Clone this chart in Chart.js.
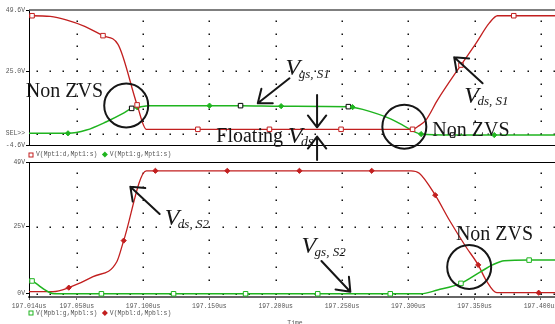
<!DOCTYPE html>
<html>
<head>
<meta charset="utf-8">
<script src="https://cdn.jsdelivr.net/npm/chart.js@4/dist/chart.umd.min.js"></script>
<style>
  html, body { margin: 0; padding: 0; background: #fff; overflow: hidden; }
  #wrap { position: relative; width: 555px; height: 324px; }
  #wrap canvas { position: absolute; left: 0; top: 0; }
</style>
</head>
<body>
<div id="wrap">
  <canvas id="lower" width="555" height="324"></canvas>
  <canvas id="upper" width="555" height="324"></canvas>
</div>
<script>
// ---- time axis (us) ----
const timeStart = 197.014;
const timeEnd = 197.4106;
const timeTicks = [197.014, 197.050, 197.100, 197.150, 197.200, 197.250, 197.300, 197.350, 197.400];

// ---- upper plot: switch S1 ----
const upperTickValues = [-4.6, 0, 25, 49.6];
const upperTickLabels = ['-4.6V', 'SEL>>', '25.0V', '49.6V'];

const s1VdsTime = [197.014, 197.0163, 197.030, 197.042, 197.056, 197.0698, 197.0811, 197.0955, 197.1025,
                   197.1413, 197.1953, 197.2493, 197.3032, 197.3070, 197.3133, 197.3221, 197.3397,
                   197.3510, 197.3610, 197.3672, 197.3795, 197.4106];
const s1Vds     = [47.3, 47.3, 47.0, 45.6, 43.0, 39.3, 35.8, 11.5, 1.7,
                   1.7, 1.7, 1.7, 1.7, 2.75, 5.4, 13.5, 27.5,
                   36.2, 44.3, 47.3, 47.3, 47.3];
const s1VdsMarks = [197.0163, 197.0698, 197.0955, 197.1413, 197.1953, 197.2493, 197.3032, 197.3397, 197.3795];

const s1VgsTime = [197.014, 197.0434, 197.0573, 197.0724, 197.0849, 197.0914, 197.0957, 197.105,
                   197.1501, 197.1735, 197.2041, 197.2548, 197.2580, 197.2656, 197.2857, 197.2970,
                   197.3096, 197.3334, 197.3648, 197.4106];
const s1Vgs     = [0.1, 0.1, 1.4, 4.75, 8.1, 10.1, 10.5, 11.2,
                   11.2, 11.2, 11.0, 10.8, 10.6, 9.7, 6.1, 3.0,
                   -0.2, -0.6, -0.6, -0.6];
const s1VgsMarks = [197.0434, 197.0957, 197.1501, 197.2041, 197.2580, 197.3096, 197.3648];
const s1CursorMarks = [197.0914, 197.1735, 197.2548, 197.3334];

// ---- lower plot: switch S2 ----
const lowerTickValues = [0, 25, 49];
const lowerTickLabels = ['0V', '25V', '49V'];

const s2VgsTime = [197.014, 197.0163, 197.0334, 197.0686, 197.123, 197.1773, 197.2317, 197.2864,
                   197.3096, 197.322, 197.3397, 197.3547, 197.3635, 197.3723, 197.3911, 197.4106];
const s2Vgs     = [5.3, 4.7, -0.1, -0.1, -0.1, -0.1, -0.1, -0.1,
                   -0.1, 1.3, 3.8, 8.2, 10.7, 12.3, 12.5, 12.5];
const s2VgsMarks = [197.0163, 197.0686, 197.123, 197.1773, 197.2317, 197.2864, 197.3397, 197.3911];

const s2VdsTime = [197.014, 197.0321, 197.044, 197.0623, 197.0803, 197.0854, 197.1025, 197.1093,
                   197.1635, 197.2179, 197.2724, 197.3020, 197.3083, 197.3203, 197.3309, 197.3434,
                   197.3527, 197.3585, 197.3668, 197.3983, 197.4106];
const s2Vds     = [0.7, 0.7, 2.2, 6.3, 12.0, 19.8, 45.9, 45.9,
                   45.9, 45.9, 45.9, 45.9, 45.0, 36.8, 27.5, 17.5,
                   10.7, 5.1, 0.3, 0.3, 0.3];
const s2VdsMarks = [197.044, 197.0854, 197.1093, 197.1635, 197.2179, 197.2724, 197.3203, 197.3527, 197.3983];

// ---- look ----
const RED = '#c21f1f';
const GREEN = '#1fb41f';
const INK = '#161616';
const LABEL = '#555';
const MONO = "'Liberation Mono','DejaVu Sans Mono',monospace";
const SERIF = "'Liberation Serif','Times New Roman',serif";
const TICK_SIZE = 6.4;
const VOLT_STEP = 5;      // dot spacing along the time gridlines
const TIME_STEP = 0.01;   // dot spacing along the voltage gridlines (10 ns)

// call-outs, anchored in each plot's own units [time us, volts]
const upperNotes = {
  rings: [[197.0873, 11.26], [197.2970, 2.75]],
  arrows: [
    [[197.2104, 22.18], [197.1865, 12.14]],
    [[197.2312, 15.47], [197.2312, 2.51]],
    [[197.2312, -10.62], [197.2312, -1.27]],
    [[197.3560, 20.17], [197.3346, 30.61]]
  ],
  labels: [
    { at: [197.0116, 14.67], parts: [['Non ZVS', '', 20, 0]] },
    { at: [197.2074, 23.5], parts: [['V', 'italic', 24, 0], ['gs, S1', 'italic', 13, 3]] },
    { at: [197.1552, -3.27], parts: [['Floating ', '', 20, 0], ['V', 'italic', 24, 1], ['ds', 'italic', 14, 4]] },
    { at: [197.3422, 12.26], parts: [['V', 'italic', 24, 0], ['ds, S1', 'italic', 13, 2]] },
    { at: [197.3181, -0.99], parts: [['Non ZVS', '', 20, 0]] }
  ]
};
const lowerNotes = {
  rings: [[197.3459, 9.91]],
  arrows: [
    [[197.1125, 29.74], [197.0904, 39.95]],
    [[197.2345, 12.16], [197.2563, 0.67]]
  ],
  labels: [
    { at: [197.1163, 25.62], parts: [['V', 'italic', 24, 0], ['ds, S2', 'italic', 13, 3]] },
    { at: [197.2194, 15.15], parts: [['V', 'italic', 24, 0], ['gs, S2', 'italic', 13, 3]] },
    { at: [197.3359, 20.01], parts: [['Non ZVS', '', 20, 0]] }
  ]
};

// ---- helpers ----
const pts = (ts, vs) => ts.map((t, i) => ({ x: t, y: vs[i] }));
const onList = (list, ctx) => !!(ctx.raw && list.some(t => Math.abs(t - ctx.raw.x) < 1e-6));

const dotGrid = {
  id: 'dotGrid',
  beforeDatasetsDraw(chart) {
    const { ctx, scales: { x, y } } = chart;
    ctx.save();
    ctx.fillStyle = '#111';
    const dot = (px, py) => ctx.fillRect(Math.round(px) - 0.5, Math.round(py) - 0.5, 1.5, 1.5);
    for (const t of timeTicks) {
      if (t <= x.min + 1e-9) continue;
      const px = x.getPixelForValue(t);
      for (let v = 0; v < y.max; v += VOLT_STEP) dot(px, y.getPixelForValue(v));
    }
    for (const v of [0, 25]) {
      const py = y.getPixelForValue(v);
      const k0 = Math.ceil(x.min / TIME_STEP + 1e-6), k1 = Math.floor(x.max / TIME_STEP);
      for (let k = k0; k <= k1; k++) dot(x.getPixelForValue(k * TIME_STEP), py);
    }
    ctx.restore();
  }
};

const frame = {
  id: 'frame',
  afterDatasetsDraw(chart, args, opts) {
    const { ctx, chartArea: a } = chart;
    ctx.save();
    ctx.beginPath();
    ctx.strokeStyle = opts.topColor; ctx.lineWidth = opts.topWidth;
    ctx.moveTo(a.left, a.top); ctx.lineTo(a.right, a.top);
    ctx.stroke();
    if (opts.bottom) {
      ctx.beginPath();
      ctx.strokeStyle = '#000'; ctx.lineWidth = 1;
      ctx.moveTo(a.left, a.bottom + 0.5); ctx.lineTo(a.right, a.bottom + 0.5);
      ctx.stroke();
    }
    ctx.restore();
  }
};

const legendRow = {
  id: 'legendRow',
  afterDraw(chart, args, opts) {
    const { ctx, chartArea: a } = chart;
    let px = a.left + 2;
    const py = a.bottom + opts.offset;
    ctx.save();
    ctx.font = `${TICK_SIZE}px ${MONO}`;
    ctx.textBaseline = 'middle';
    ctx.textAlign = 'left';
    for (const ds of chart.data.datasets) {
      const col = ds.borderColor;
      ctx.lineWidth = 1;
      if (ds.legendSymbol === 'square') {
        ctx.strokeStyle = col;
        ctx.strokeRect(Math.round(px) - 2, Math.round(py) - 2, 4, 4);
      } else {
        ctx.fillStyle = col;
        ctx.beginPath();
        ctx.moveTo(px, py - 3); ctx.lineTo(px + 3, py); ctx.lineTo(px, py + 3); ctx.lineTo(px - 3, py);
        ctx.closePath(); ctx.fill();
      }
      ctx.fillStyle = LABEL;
      ctx.fillText(ds.label, px + 5, py);
      px += 5 + ctx.measureText(ds.label).width + 7.5;
    }
    if (opts.title) {
      ctx.textAlign = 'center';
      ctx.textBaseline = 'top';
      ctx.fillText(opts.title, (a.left + a.right) / 2 + 3, a.bottom + 23);
    }
    ctx.restore();
  }
};

const callouts = {
  id: 'callouts',
  afterDraw(chart, args, notes) {
    const { ctx, scales: { x, y } } = chart;
    const P = ([t, v]) => [x.getPixelForValue(t), y.getPixelForValue(v)];
    const HEAD = 15, SPREAD = 0.66;
    ctx.save();
    ctx.strokeStyle = INK; ctx.fillStyle = INK;
    ctx.lineWidth = 2; ctx.lineCap = 'round'; ctx.lineJoin = 'round';
    for (const c of notes.rings) {
      const [cx, cy] = P(c);
      ctx.beginPath(); ctx.arc(cx, cy, 22, 0, Math.PI * 2); ctx.stroke();
    }
    for (const [from, to] of notes.arrows) {
      const [x0, y0] = P(from), [x1, y1] = P(to);
      const ang = Math.atan2(y0 - y1, x0 - x1);
      ctx.beginPath();
      ctx.moveTo(x0, y0); ctx.lineTo(x1, y1);
      for (const s of [-1, 1]) {
        ctx.moveTo(x1, y1);
        ctx.lineTo(x1 + HEAD * Math.cos(ang + s * SPREAD), y1 + HEAD * Math.sin(ang + s * SPREAD));
      }
      ctx.stroke();
    }
    ctx.textAlign = 'left'; ctx.textBaseline = 'alphabetic';
    for (const lab of notes.labels) {
      let [px, py] = P(lab.at);
      for (const [txt, style, size, dy] of lab.parts) {
        ctx.font = `${style} ${size}px ${SERIF}`.trim();
        ctx.fillText(txt, px, py + dy);
        px += ctx.measureText(txt).width - (style === 'italic' && size > 20 ? 1.5 : 0);
      }
    }
    ctx.restore();
  }
};

Chart.defaults.font.family = MONO;
Chart.defaults.font.size = TICK_SIZE;
Chart.defaults.color = LABEL;

function yAxis(min, max, values, labels) {
  return {
    type: 'linear', min, max,
    afterFit(s) { s.width = 29; },
    afterBuildTicks(s) { s.ticks = values.map(v => ({ value: v })); },
    ticks: { autoSkip: false, padding: 1, callback: (v, i) => labels[i] },
    grid: {
      drawOnChartArea: false, tickLength: 3,
      tickColor: c => (c.tick && c.tick.value === 0 && labels === upperTickLabels) ? 'rgba(0,0,0,0)' : '#000'
    },
    border: { display: true, color: '#000', width: 1 }
  };
}

// ---- upper plot ----
new Chart(document.getElementById('upper'), {
  type: 'line',
  data: {
    datasets: [
      {
        label: 'V(Mpt1:d,Mpt1:s)', legendSymbol: 'square',
        data: pts(s1VdsTime, s1Vds),
        borderColor: RED, borderWidth: 1.3, cubicInterpolationMode: 'monotone', fill: false,
        pointStyle: 'rect',
        pointRadius: c => onList(s1VdsMarks, c) ? 3.2 : 0,
        pointBackgroundColor: '#fff', pointBorderColor: RED, pointBorderWidth: 1
      },
      {
        label: 'V(Mpt1:g,Mpt1:s)', legendSymbol: 'diamond',
        data: pts(s1VgsTime, s1Vgs),
        borderColor: GREEN, borderWidth: 1.5, cubicInterpolationMode: 'monotone', fill: false,
        pointStyle: c => onList(s1CursorMarks, c) ? 'rect' : 'rectRot',
        pointRadius: c => onList(s1CursorMarks, c) ? 3.2 : (onList(s1VgsMarks, c) ? 2.6 : 0),
        pointBackgroundColor: c => onList(s1CursorMarks, c) ? '#fff' : GREEN,
        pointBorderColor: c => onList(s1CursorMarks, c) ? '#000' : GREEN,
        pointBorderWidth: 1
      }
    ]
  },
  options: {
    responsive: false, animation: false, devicePixelRatio: 1, events: [],
    layout: { padding: { top: 10, bottom: 179, left: 0, right: 0 } },
    plugins: {
      legend: { display: false }, tooltip: { enabled: false },
      frame: { topColor: '#555', topWidth: 1.5, bottom: true },
      legendRow: { offset: 9.5 },
      callouts: upperNotes
    },
    scales: {
      x: { type: 'linear', min: timeStart, max: timeEnd, display: false },
      y: yAxis(-4.6, 49.6, upperTickValues, upperTickLabels)
    }
  },
  plugins: [dotGrid, frame, legendRow, callouts]
});

// ---- lower plot ----
new Chart(document.getElementById('lower'), {
  type: 'line',
  data: {
    datasets: [
      {
        label: 'V(Mpbl:g,Mpbl:s)', legendSymbol: 'square',
        data: pts(s2VgsTime, s2Vgs),
        borderColor: GREEN, borderWidth: 1.5, cubicInterpolationMode: 'monotone', fill: false,
        pointStyle: 'rect',
        pointRadius: c => onList(s2VgsMarks, c) ? 3.2 : 0,
        pointBackgroundColor: '#fff', pointBorderColor: GREEN, pointBorderWidth: 1
      },
      {
        label: 'V(Mpbl:d,Mpbl:s)', legendSymbol: 'diamond',
        data: pts(s2VdsTime, s2Vds),
        borderColor: RED, borderWidth: 1.3, cubicInterpolationMode: 'monotone', fill: false,
        pointStyle: 'rectRot',
        pointRadius: c => onList(s2VdsMarks, c) ? 2.6 : 0,
        pointBackgroundColor: RED, pointBorderColor: RED, pointBorderWidth: 1
      }
    ]
  },
  options: {
    responsive: false, animation: false, devicePixelRatio: 1, events: [],
    layout: { padding: { top: 162.5, bottom: 13, left: 0, right: 0 } },
    plugins: {
      legend: { display: false }, tooltip: { enabled: false },
      frame: { topColor: '#000', topWidth: 1, bottom: false },
      legendRow: { offset: 16, title: 'Time' },
      callouts: lowerNotes
    },
    scales: {
      x: {
        type: 'linear', min: timeStart, max: timeEnd,
        afterFit(s) { s.height = 14; s.paddingRight = 0; s.paddingLeft = 0; },
        afterBuildTicks(s) { s.ticks = timeTicks.map(v => ({ value: v })); },
        ticks: { autoSkip: false, maxRotation: 0, padding: 2, callback: v => v.toFixed(3) + 'us' },
        grid: { drawOnChartArea: false, tickLength: 3, tickColor: '#666' },
        border: { display: true, color: '#666', width: 2 }
      },
      y: yAxis(-1.3, 49, lowerTickValues, lowerTickLabels)
    }
  },
  plugins: [dotGrid, frame, legendRow, callouts]
});
</script>
</body>
</html>
